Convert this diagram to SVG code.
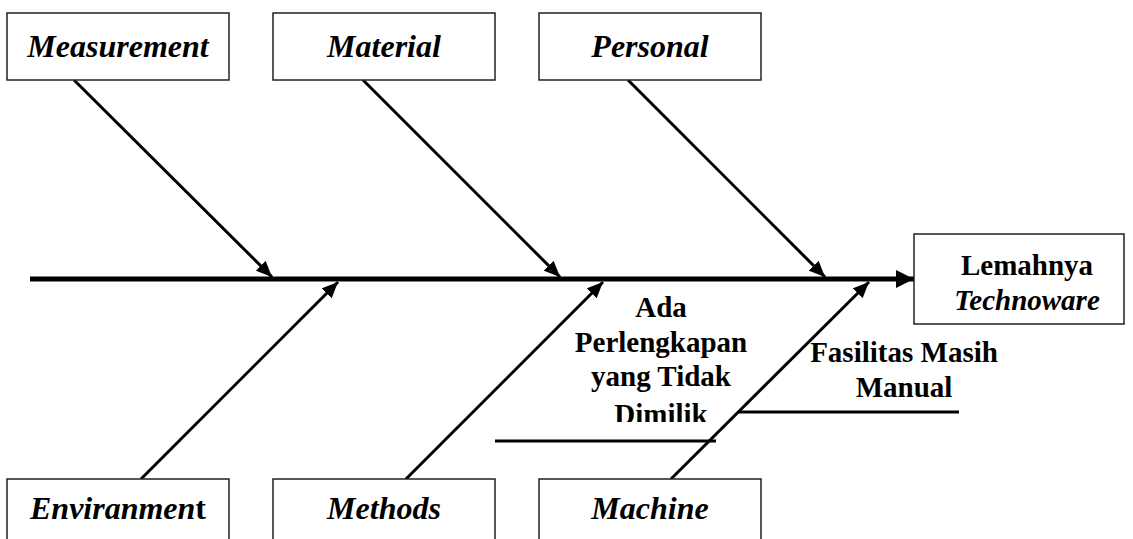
<svg xmlns="http://www.w3.org/2000/svg" width="1133" height="539" viewBox="0 0 1133 539">
<style>
.box{fill:#fff;stroke:#222;stroke-width:1.5}
.lbl{font-family:"Liberation Serif","Times New Roman",serif;font-weight:bold;font-style:italic;font-size:32px;text-anchor:middle;fill:#000}
.txt{font-family:"Liberation Serif","Times New Roman",serif;font-weight:bold;font-size:29px;text-anchor:middle;fill:#000}
.bone{stroke:#000;stroke-width:3;fill:none}
.spine{stroke:#000;stroke-width:5;fill:none}
</style>
<defs>
<marker id="ah" markerUnits="userSpaceOnUse" viewBox="0 0 16 14" refX="16" refY="7" markerWidth="16" markerHeight="14" orient="auto">
<path d="M0,0 L16,7 L0,14 Z" fill="#000"/>
</marker>
<marker id="ahBig" markerUnits="userSpaceOnUse" viewBox="0 0 18 18" refX="18" refY="9" markerWidth="18" markerHeight="18" orient="auto">
<path d="M0,0 L18,9 L0,18 Z" fill="#000"/>
</marker>
<clipPath id="clipAda"><rect x="560" y="290" width="200" height="132"/></clipPath>
</defs>
<g id="connectors">
<line class="spine" x1="30" y1="279" x2="914" y2="279" marker-end="url(#ahBig)"/>
<line class="bone" x1="74" y1="80" x2="272" y2="277" marker-end="url(#ah)"/>
<line class="bone" x1="363" y1="80" x2="560" y2="277" marker-end="url(#ah)"/>
<line class="bone" x1="628" y1="80" x2="825" y2="277" marker-end="url(#ah)"/>
<line class="bone" x1="141" y1="479" x2="338" y2="282" marker-end="url(#ah)"/>
<line class="bone" x1="406" y1="479" x2="603" y2="282" marker-end="url(#ah)"/>
<line class="bone" x1="671" y1="479" x2="869" y2="282" marker-end="url(#ah)"/>
<line class="bone" x1="739" y1="412" x2="959" y2="412"/>
<line class="bone" x1="495" y1="441" x2="716" y2="441"/>
</g>
<g id="measurement">
<rect class="box" x="7" y="13" width="222" height="67"/>
<text class="lbl" x="118" y="57">Measurement</text>
</g>
<g id="material">
<rect class="box" x="273" y="13" width="222" height="67"/>
<text class="lbl" x="384" y="57">Material</text>
</g>
<g id="personal">
<rect class="box" x="539" y="13" width="222" height="67"/>
<text class="lbl" x="650" y="57">Personal</text>
</g>
<g id="environment">
<rect class="box" x="7" y="479" width="222" height="70"/>
<text class="lbl" x="118" y="519">Enviranmen<tspan font-style="normal">t</tspan></text>
</g>
<g id="methods">
<rect class="box" x="273" y="479" width="222" height="70"/>
<text class="lbl" x="384" y="519">Methods</text>
</g>
<g id="machine">
<rect class="box" x="539" y="479" width="222" height="70"/>
<text class="lbl" x="650" y="519">Machine</text>
</g>
<g id="effect">
<rect class="box" x="914" y="234" width="210" height="90"/>
<text class="txt" x="1027" y="275" font-size="31">Lemahnya</text>
<text class="txt" x="1027" y="310" font-size="32" font-weight="normal" font-style="italic">Technoware</text>
</g>
<g id="cause-ada">
<text class="txt" x="661" y="317" clip-path="url(#clipAda)">Ada<tspan x="661" y="352">Perlengkapan</tspan><tspan x="661" y="386">yang Tidak</tspan><tspan x="661" y="424">Dimilik</tspan></text>
</g>
<g id="cause-fasilitas">
<text class="txt" x="904" y="362">Fasilitas Masih<tspan x="904" y="397">Manual</tspan></text>
</g>
</svg>
